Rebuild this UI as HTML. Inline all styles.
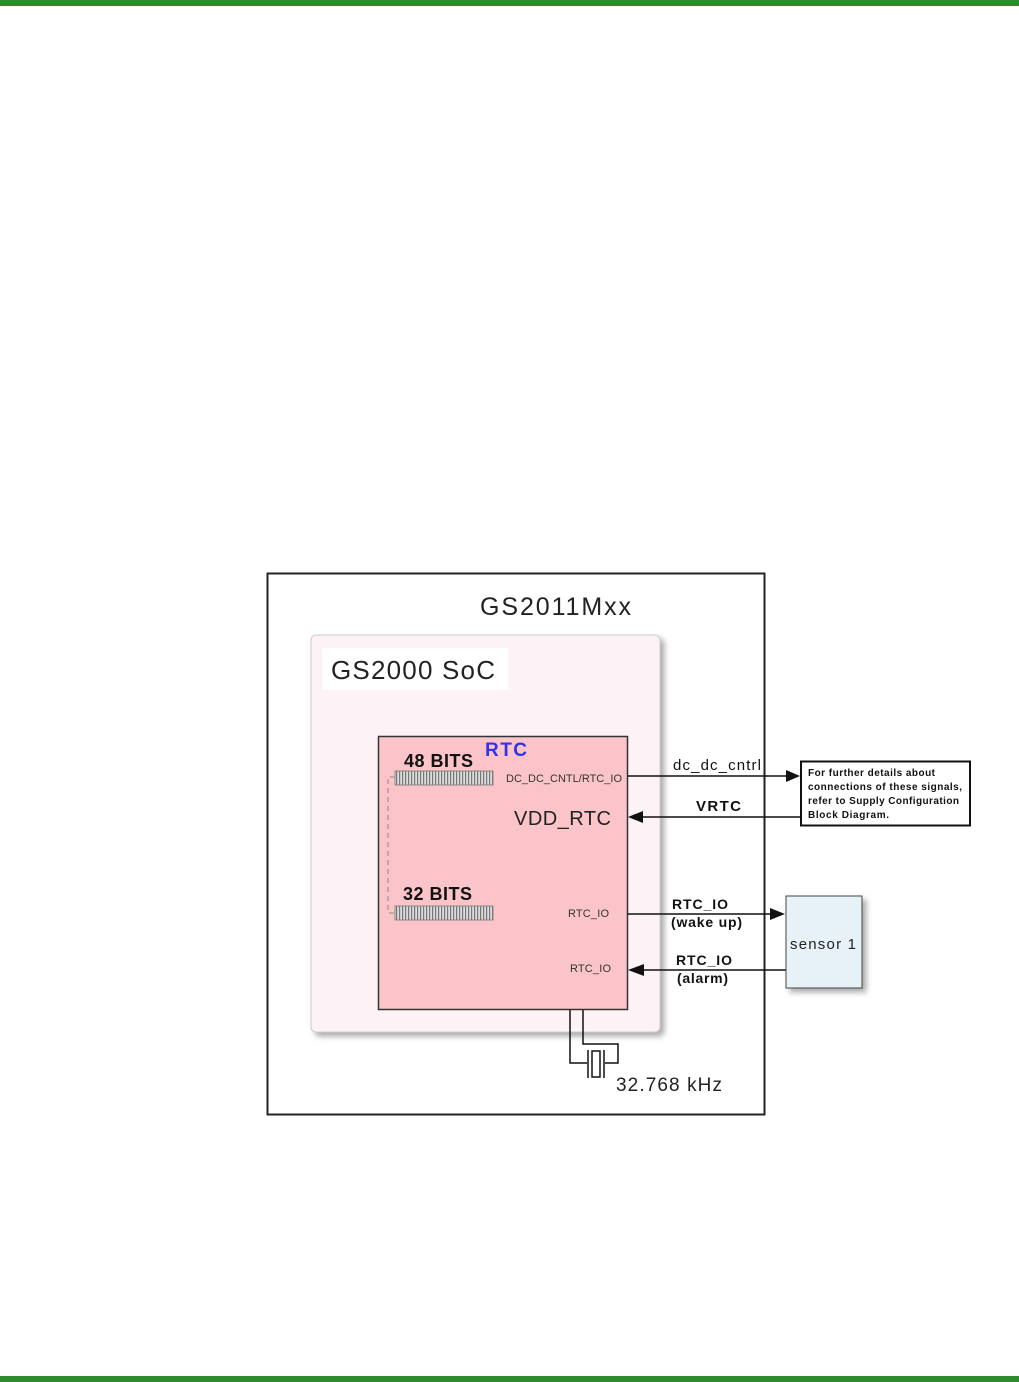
<!DOCTYPE html>
<html><head><meta charset="utf-8"><style>
body{margin:0;width:1019px;height:1382px;background:#fff;position:relative;overflow:hidden;font-family:"Liberation Sans",sans-serif}
</style></head><body>
<div style="position:absolute;left:0;top:0;width:1019px;height:6px;background:#2e8b2e"></div>
<div style="position:absolute;left:0;top:1376px;width:1019px;height:6px;background:#2e8b2e"></div>
<svg width="1019" height="1382" style="position:absolute;left:0;top:0" font-family="Liberation Sans, sans-serif">
<defs>
<filter id="sh" x="-10%" y="-10%" width="130%" height="130%"><feDropShadow dx="4" dy="4" stdDeviation="3" flood-color="#777" flood-opacity="0.6"/></filter>
<pattern id="bar" width="3" height="14" patternUnits="userSpaceOnUse"><rect width="3" height="14" fill="#ddd"/><rect width="1.2" height="14" fill="#777"/></pattern>
</defs>
<rect x="267.5" y="573.5" width="497" height="541" fill="#fff" stroke="#222" stroke-width="2"/>
<text x="480" y="615" font-size="25" fill="#222" textLength="151">GS2011Mxx</text>
<rect x="311" y="635" width="349" height="397" rx="5" fill="#fdf2f6" stroke="#ccc" filter="url(#sh)"/>
<rect x="322" y="648" width="186" height="42" fill="#fff"/>
<text x="331" y="679" font-size="26" fill="#222" textLength="164">GS2000 SoC</text>
<rect x="378.5" y="736.5" width="249" height="273" fill="#fbc4c8" stroke="#333" stroke-width="1.5"/>
<text x="485" y="756" font-size="19" font-weight="bold" fill="#3333ee" textLength="42">RTC</text>
<text x="404" y="767" font-size="18" font-weight="bold" fill="#111" textLength="69">48 BITS</text>
<text x="403" y="900" font-size="18" font-weight="bold" fill="#111" textLength="69">32 BITS</text>
<rect x="395" y="771" width="98" height="14" fill="url(#bar)" stroke="#777" stroke-width="0.8"/>
<rect x="395" y="906" width="98" height="14" fill="url(#bar)" stroke="#777" stroke-width="0.8"/>
<path d="M395 777 H388 V913 H395" fill="none" stroke="#888" stroke-dasharray="5,4"/>
<text x="506" y="782" font-size="11" fill="#333" textLength="116">DC_DC_CNTL/RTC_IO</text>
<text x="514" y="825" font-size="20" fill="#222" textLength="97">VDD_RTC</text>
<text x="568" y="917" font-size="11" fill="#333" textLength="41">RTC_IO</text>
<text x="570" y="972" font-size="11" fill="#333" textLength="41">RTC_IO</text>
<g stroke="#111" stroke-width="1.5" fill="none">
<line x1="628" y1="776" x2="788" y2="776"/>
<line x1="642" y1="817" x2="800" y2="817"/>
<line x1="628" y1="914" x2="772" y2="914"/>
<line x1="644" y1="970" x2="786" y2="970"/>
<path d="M570 1010 V1063 H587"/>
<path d="M583 1010 V1044 H618 V1063 H605"/>
<line x1="588" y1="1050" x2="588" y2="1078"/>
<line x1="604" y1="1050" x2="604" y2="1078"/>
<rect x="592" y="1051" width="8" height="26"/>
</g>
<g fill="#111">
<polygon points="800,776 786,770 786,782"/>
<polygon points="628,817 643,811 643,823"/>
<polygon points="785,914 770,908 770,920"/>
<polygon points="628,970 644,964 644,976"/>
</g>
<text x="673" y="770" font-size="15" fill="#111" textLength="88">dc_dc_cntrl</text>
<text x="696" y="811" font-size="15" font-weight="bold" fill="#111" textLength="45">VRTC</text>
<text x="672" y="909" font-size="14" font-weight="bold" fill="#111" textLength="56">RTC_IO</text>
<text x="671" y="927" font-size="14" font-weight="bold" fill="#111" textLength="71">(wake up)</text>
<text x="676" y="965" font-size="14" font-weight="bold" fill="#111" textLength="56">RTC_IO</text>
<text x="677" y="983" font-size="14" font-weight="bold" fill="#111" textLength="51">(alarm)</text>
<rect x="801" y="761.5" width="169" height="64" fill="#fff" stroke="#111" stroke-width="2"/>
<g font-size="10" font-weight="bold" fill="#111">
<text x="808" y="776" textLength="127">For further details about</text>
<text x="808" y="790" textLength="154">connections of these signals,</text>
<text x="808" y="804" textLength="151">refer to Supply Configuration</text>
<text x="808" y="818" textLength="81">Block Diagram.</text>
</g>
<rect x="786" y="896" width="76" height="92" fill="#e6f1f8" stroke="#444" filter="url(#sh)"/>
<text x="790" y="949" font-size="15" fill="#222" textLength="66">sensor 1</text>
<text x="616" y="1091" font-size="19" fill="#222" textLength="106">32.768 kHz</text>
</svg>
</body></html>
